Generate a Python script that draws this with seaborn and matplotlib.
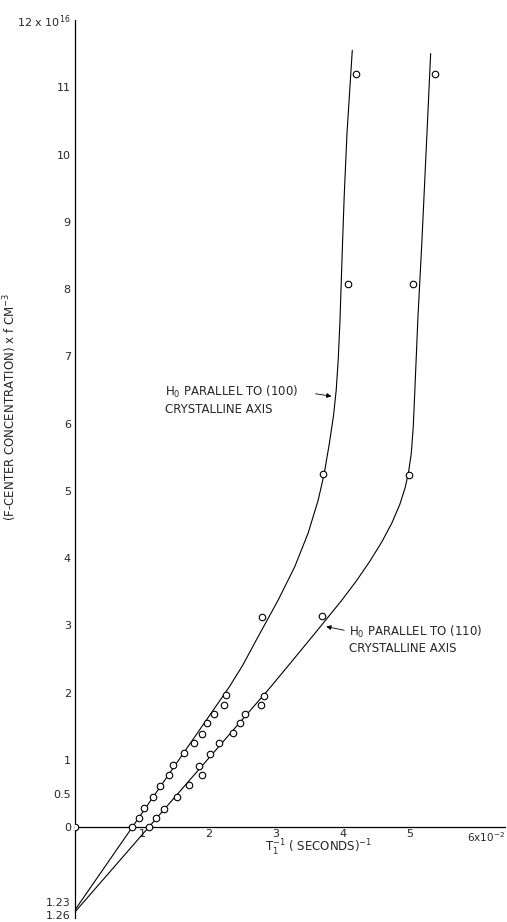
import pandas as pd
import seaborn as sns
import matplotlib.pyplot as plt
import numpy as np

# measured points, H0 parallel to (100)
x_100 = [0.0, 0.855, 0.96, 1.03, 1.16, 1.27, 1.41, 1.47, 1.63, 1.77, 1.90, 1.97, 2.07, 2.23, 2.25,
         2.79, 3.70, 4.07, 4.19]
y_100 = [0.0, 0.0, 0.13, 0.28, 0.45, 0.61, 0.78, 0.92, 1.10, 1.25, 1.39, 1.55, 1.68, 1.82, 1.96,
         3.13, 5.25, 8.07, 11.2]

# measured points, H0 parallel to (110)
x_110 = [1.10, 1.21, 1.33, 1.52, 1.70, 1.89, 1.85, 2.02, 2.15, 2.36, 2.47, 2.54, 2.78, 2.82,
         3.69, 4.99, 5.04, 5.37]
y_110 = [0.0, 0.13, 0.27, 0.45, 0.62, 0.78, 0.91, 1.09, 1.25, 1.40, 1.55, 1.68, 1.81, 1.95,
         3.14, 5.23, 8.07, 11.2]

# hand drawn curves through the points
curve_100_x = [0.0, 2.30, 2.50, 2.76, 3.03, 3.28, 3.48, 3.63, 3.72, 3.80, 3.86, 3.90, 3.93, 3.955,
               3.975, 3.995, 4.02, 4.06, 4.14]
curve_100_y = [-1.23, 2.08, 2.40, 2.88, 3.37, 3.87, 4.37, 4.86, 5.25, 5.72, 6.12, 6.50, 6.95, 7.50,
               8.10, 8.70, 9.40, 10.3, 11.55]

curve_110_x = [0.0, 2.90, 3.20, 3.58, 3.76, 3.98, 4.20, 4.40, 4.58, 4.73, 4.85, 4.93, 4.98, 5.02,
               5.05, 5.07, 5.12, 5.18, 5.24, 5.31]
curve_110_y = [-1.26, 2.06, 2.42, 2.88, 3.10, 3.37, 3.66, 3.95, 4.24, 4.52, 4.80, 5.05, 5.28, 5.55,
               5.95, 6.40, 7.58, 8.72, 10.0, 11.5]

y_ticks = [0, 0.5, 1, 2, 3, 4, 5, 6, 7, 8, 9, 10, 11, 12]
y_tick_labels = ["0", "0.5", "1", "2", "3", "4", "5", "6", "7", "8", "9", "10", "11", "12 x 10$^{16}$"]
x_ticks = [1, 2, 3, 4, 5, 6]
x_tick_labels = ["1", "2", "3", "4", "5", ""]

pts = pd.concat([
    pd.DataFrame({"x": x_100, "y": y_100, "axis": "100"}),
    pd.DataFrame({"x": x_110, "y": y_110, "axis": "110"}),
])
curves = pd.concat([
    pd.DataFrame({"x": curve_100_x, "y": curve_100_y, "axis": "100"}),
    pd.DataFrame({"x": curve_110_x, "y": curve_110_y, "axis": "110"}),
])

sns.set_style("white")
plt.rcParams["font.family"] = ["DejaVu Sans"]

fig = plt.figure(figsize=(5.07, 9.22), dpi=100)
ax = fig.add_axes([75 / 507, 4 / 922, 430 / 507, 898 / 922])

sns.lineplot(data=curves, x="x", y="y", units="axis", estimator=None, sort=False,
             color="black", linewidth=0.8, ax=ax)
sns.scatterplot(data=pts, x="x", y="y", marker="o", s=22, facecolor="white",
                edgecolor="black", linewidth=0.8, zorder=3, ax=ax, legend=False)

ax.set_xlim(0, 6.42)
ax.set_ylim(-1.35, 12)
ax.set_xlabel("")
ax.set_ylabel("")

for s in ["top", "right"]:
    ax.spines[s].set_visible(False)
ax.spines["bottom"].set_position(("data", 0))
for s in ["left", "bottom"]:
    ax.spines[s].set_linewidth(0.9)
    ax.spines[s].set_color("black")

ax.set_yticks(y_ticks)
ax.set_yticklabels(y_tick_labels)
ax.set_xticks(x_ticks)
ax.set_xticklabels(x_tick_labels)
ax.set_xticks(np.arange(0.1, 6.4, 0.1), minor=True)
ax.tick_params(axis="y", direction="in", length=4, width=0.8, pad=3, labelsize=8)
ax.tick_params(axis="x", direction="in", length=4, width=0.8, pad=1, labelsize=8)
ax.tick_params(axis="x", which="minor", direction="in", length=2, width=0.5)

ax.text(5.86, -0.05, "6x10$^{-2}$", ha="left", va="top", fontsize=7.5)
ax.text(-0.06, -1.13, "1.23", ha="right", va="center", fontsize=8)
ax.text(-0.06, -1.32, "1.26", ha="right", va="center", fontsize=8)

ax.text(3.64, -0.31, "T$_1^{-1}$ ( SECONDS)$^{-1}$", ha="center", va="center", fontsize=8.5)
fig.text(10 / 507, 1 - 407 / 922, "(F-CENTER CONCENTRATION) x f CM$^{-3}$",
         rotation=90, ha="center", va="center", fontsize=8.5)

# labels for the two curves
ax.text(1.34, 6.47, "H$_0$ PARALLEL TO (100)", ha="left", va="center", fontsize=8.5)
ax.text(1.34, 6.21, "CRYSTALLINE AXIS", ha="left", va="center", fontsize=8.5)
ax.annotate("", xy=(3.87, 6.40), xytext=(3.55, 6.45),
            arrowprops=dict(arrowstyle="-|>", color="black", lw=0.6, mutation_scale=7))
ax.text(4.09, 2.90, "H$_0$ PARALLEL TO (110)", ha="left", va="center", fontsize=8.5)
ax.text(4.09, 2.65, "CRYSTALLINE AXIS", ha="left", va="center", fontsize=8.5)
ax.annotate("", xy=(3.71, 2.99), xytext=(4.06, 2.92),
            arrowprops=dict(arrowstyle="-|>", color="black", lw=0.6, mutation_scale=7))

fig.savefig("out.png", dpi=100)
